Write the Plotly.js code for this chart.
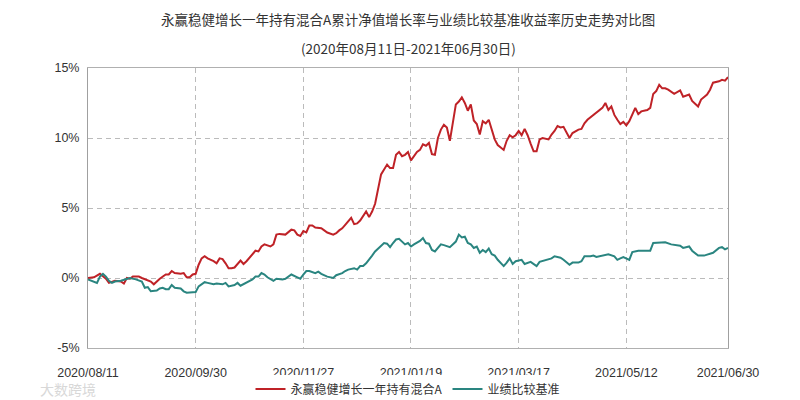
<!DOCTYPE html>
<html>
<head>
<meta charset="utf-8">
<script src="https://cdn.plot.ly/plotly-3.0.1.min.js"></script>
<style>html,body{margin:0;padding:0;background:#fff;}#chart{width:800px;height:400px;}</style>
</head>
<body>
<div id="chart"></div>
<script>
// Trading-day index (0 = 2020/08/11 ... 214 = 2021/06/30)
const tickIndex = [0, 36, 72, 108, 144, 180, 214];
const tickLabels = ["2020/08/11", "2020/09/30", "2020/11/27", "2021/01/19", "2021/03/17", "2021/05/12", "2021/06/30"];

const fundName = "永赢稳健增长一年持有混合A";
const benchName = "业绩比较基准";

const fundDay = [0,2,4,6,7,9,11,12,13,14,15,17,18,20,21,22,23,24,26,27,28,29,31,32,33,34,35,36,37,38,39,40,42,43,44,45,46,47,48,49,51,52,53,54,56,57,58,59,60,61,62,63,64,65,66,68,69,70,71,72,73,74,75,76,77,78,79,80,82,83,84,85,86,88,89,90,91,92,93,94,95,96,97,98,100,101,102,103,104,
105,106,107,108,109,110,111,112,113,114,115,116,117,118,119,120,121,122,123,124,125,126,127,128,129,130,131,132,133,134,135,136,137,138,139,140,141,142,143,144,145,146,147,148,149,150,151,152,154,155,156,157,158,159,160,161,162,164,165,166,167,169,170,172,173,174,175,176,177,178,179,180,181,183,184,185,187,188,189,190,191,192,193,194,196,198,199,201,202,204,205,207,208,209,211,212,213,214];
const fundVal = [0.0,0.05,0.3,-0.05,-0.35,-0.2,-0.25,-0.4,0.0,-0.05,0.1,0.1,0.0,-0.2,-0.25,-0.45,-0.25,-0.05,0.25,0.25,0.5,0.35,0.3,0.35,0.05,0.05,0.25,0.3,0.95,1.4,1.55,1.4,1.2,1.05,1.4,1.35,1.05,0.7,0.7,0.75,1.25,1.0,1.2,1.45,1.95,1.9,2.25,2.4,2.35,2.25,2.4,3.1,3.15,3.1,3.1,3.45,3.4,3.1,3.0,3.35,3.25,3.75,3.75,3.6,3.6,3.55,3.4,3.25,3.1,3.2,3.4,3.55,3.8,4.3,3.85,3.9,4.1,4.4,4.75,4.35,4.75,5.3,6.4,7.4,8.1,7.85,7.85,8.8,9.0,
8.7,8.8,9.0,8.4,8.7,9.0,9.15,9.55,9.45,9.65,8.85,8.8,10.0,10.6,10.95,10.75,9.8,11.2,12.4,12.6,12.9,12.5,11.95,12.4,11.25,11.0,10.25,11.2,11.05,11.3,10.5,9.9,9.5,9.3,9.15,9.8,10.2,10.05,10.2,10.5,10.2,10.65,10.2,9.6,9.05,9.05,9.9,10.0,9.9,10.25,10.5,10.85,10.75,10.8,10.4,10.0,10.35,10.6,10.65,11.05,11.3,11.65,11.85,12.15,12.5,12.0,12.25,11.65,11.3,11.0,11.15,10.9,11.2,12.15,11.7,11.9,12.0,12.15,13.15,13.35,13.8,13.55,13.55,13.45,13.15,13.4,12.95,13.1,12.65,12.25,12.75,13.1,13.45,13.95,14.05,14.15,14.1,14.35];

const benchDay = [0,2,3,4,5,6,7,8,9,11,13,14,16,18,19,20,21,23,24,25,26,27,28,29,31,32,33,35,36,37,39,40,42,43,45,46,47,49,50,51,52,53,55,56,57,58,59,60,61,62,63,65,66,67,68,70,71,72,73,74,76,77,78,80,81,82,83,84,85,86,87,89,90,91,92,93,94,95,96,97,98,99,100,101,102,103,104,
105,106,107,108,109,110,111,112,113,114,115,116,117,118,119,120,121,123,124,125,126,127,128,129,130,131,132,133,134,135,136,137,138,139,140,141,142,143,145,146,148,150,151,152,153,155,156,158,159,161,162,164,165,166,168,169,170,171,172,174,176,177,178,179,181,182,184,185,187,188,189,190,192,193,195,196,198,199,201,202,204,206,207,209,211,212,213,214];
const benchVal = [-0.1,-0.3,-0.35,0.1,0.3,0.1,-0.2,-0.35,-0.25,-0.2,-0.1,0.0,-0.1,-0.25,-0.7,-0.65,-0.95,-0.9,-0.75,-0.7,-0.8,-0.8,-0.5,-0.7,-0.75,-0.95,-1.05,-1.0,-1.0,-0.6,-0.3,-0.35,-0.45,-0.4,-0.45,-0.35,-0.6,-0.5,-0.35,-0.55,-0.45,-0.35,-0.1,0.1,0.1,0.35,0.25,0.05,-0.05,-0.2,-0.05,-0.1,-0.05,0.1,0.25,0.05,-0.05,0.25,0.5,0.5,0.35,0.45,0.3,0.1,0.05,0.0,0.2,0.25,0.35,0.5,0.6,0.7,0.6,0.85,0.85,1.05,1.3,1.6,1.9,2.1,2.25,2.5,2.45,2.2,2.5,2.75,2.8,
2.6,2.4,2.5,2.25,2.4,2.5,2.65,2.85,2.5,2.45,2.0,1.9,2.15,2.4,2.35,2.3,2.2,2.6,3.1,2.9,2.95,2.5,2.4,2.15,2.25,1.8,2.0,1.85,2.1,1.7,1.6,1.3,1.05,0.85,1.1,1.4,1.0,1.2,1.3,1.0,1.15,0.85,1.15,1.2,1.3,1.4,1.55,1.45,1.3,0.95,1.1,1.1,1.2,1.55,1.55,1.6,1.5,1.55,1.65,1.7,1.55,1.3,1.4,1.5,1.3,1.85,1.95,1.95,2.0,1.95,2.5,2.5,2.5,2.55,2.4,2.35,2.3,2.15,2.25,1.95,1.6,1.6,1.65,1.8,2.15,2.2,2.05,2.15];

const titleLine1 = "永赢稳健增长一年持有混合A累计净值增长率与业绩比较基准收益率历史走势对比图";
const titleLine2 = "(2020年08月11日-2021年06月30日)";
const watermark = "大数跨境";

const FONT = "'Liberation Sans', 'Noto Sans CJK SC', sans-serif";
const CJK = "'Noto Sans CJK SC', 'Liberation Sans', sans-serif";

const traces = [
  {x: fundDay, y: fundVal, type: "scatter", mode: "lines", name: fundName,
   line: {color: "#bf2227", width: 2}},
  {x: benchDay, y: benchVal, type: "scatter", mode: "lines", name: benchName,
   line: {color: "#2a8580", width: 2}}
];

const layout = {
  width: 800, height: 400,
  margin: {l: 88, r: 72, t: 68, b: 52, autoexpand: false},
  paper_bgcolor: "#fff", plot_bgcolor: "#fff",
  showlegend: true,
  legend: {orientation: "h", x: 0.5, xanchor: "center", y: -(389 - 348) / 280, yanchor: "middle",
           font: {family: CJK, size: 12, color: "#333"}, tracegroupgap: 0},
  xaxis: {range: [0, 214], tickvals: tickIndex, ticktext: tickLabels,
          ticks: "outside", ticklen: 13, tickcolor: "rgba(0,0,0,0)",
          showgrid: true, gridcolor: "#bbb", griddash: "5px,4px", gridwidth: 1,
          showline: true, linecolor: "#b0b0b0", linewidth: 1, mirror: true, zeroline: false,
          tickfont: {family: FONT, size: 12.5, color: "#333"}, fixedrange: true, automargin: false},
  yaxis: {range: [-5, 15], tickvals: [-5, 0, 5, 10, 15], ticktext: ["-5%", "0%", "5%", "10%", "15%"],
          ticks: "outside", ticklen: 5, tickcolor: "rgba(0,0,0,0)",
          showgrid: true, gridcolor: "#bbb", griddash: "5px,4px", gridwidth: 1,
          showline: true, linecolor: "#a0a0a0", linewidth: 1, mirror: true, zeroline: false,
          tickfont: {family: FONT, size: 12.5, color: "#333"}, fixedrange: true, automargin: false},
  annotations: [
    {text: titleLine1, xref: "paper", yref: "paper", x: 0.5, y: 1 + (68 - 19) / 280,
     xanchor: "center", yanchor: "middle", showarrow: false,
     font: {family: CJK, size: 13.5, color: "#333"}},
    {text: titleLine2, xref: "paper", yref: "paper", x: 0.5, y: 1 + (68 - 48) / 280,
     xanchor: "center", yanchor: "middle", showarrow: false,
     font: {family: CJK, size: 13.5, color: "#333"}},
    {text: watermark, xref: "paper", yref: "paper", x: (38 - 88) / 640, y: -(389 - 348) / 280,
     xanchor: "left", yanchor: "middle", showarrow: false,
     font: {family: CJK, size: 14, color: "#d8d8d8"}}
  ]
};

Plotly.newPlot("chart", traces, layout, {displayModeBar: false, staticPlot: true});
</script>
</body>
</html>
